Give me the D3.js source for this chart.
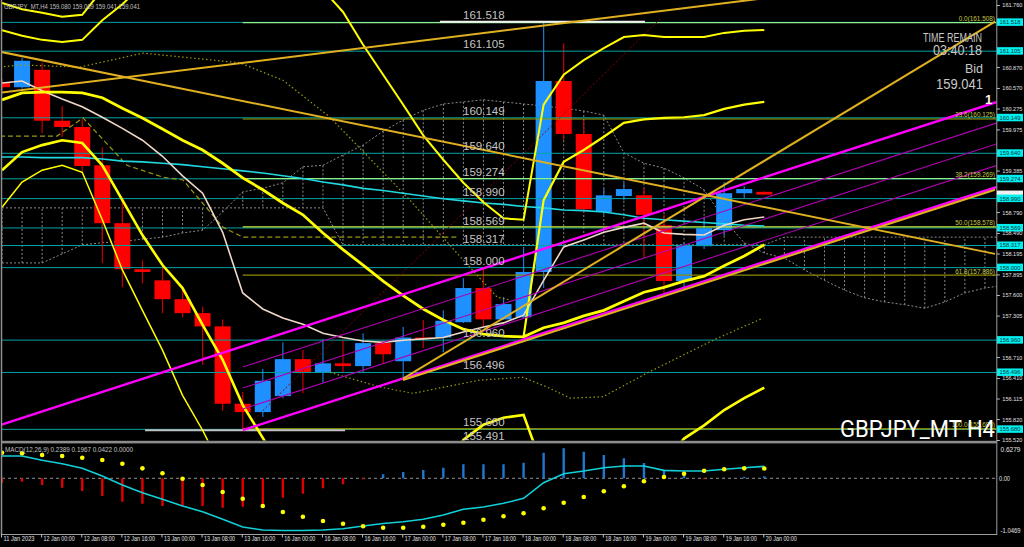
<!DOCTYPE html>
<html><head><meta charset="utf-8">
<script src="https://cdn.jsdelivr.net/npm/d3@7"></script>
<style>
html,body{margin:0;padding:0;background:#000;overflow:hidden;}
svg{display:block;font-family:"Liberation Sans",Arial,sans-serif;}
</style></head><body>
<svg id="c" width="1024" height="547"></svg>
<script>
// ---------------- DATA ----------------
const symbolHeader = "GBPJPY_MT,H4 159.080 159.089 159.041 159.041";
const macdHeader = "MACD(12,26,9) 0.2389 0.1967 0.0422 0.0000";
const bigTitle = "GBPJPY_MT H4";
const bidText = "159.041";
const bidPrice = 159.041;
const timeRemain = "03:40:18";

const timeLabels = ["11 Jan 2023","12 Jan 00:00","12 Jan 08:00","12 Jan 16:00","13 Jan 00:00","13 Jan 08:00","13 Jan 16:00","16 Jan 00:00","16 Jan 08:00","16 Jan 16:00","17 Jan 00:00","17 Jan 08:00","17 Jan 16:00","18 Jan 00:00","18 Jan 08:00","18 Jan 16:00","19 Jan 00:00","19 Jan 08:00","19 Jan 16:00","20 Jan 00:00"];
const timeLabelBars = [0,2,4,6,8,10,12,14,16,18,20,22,24,26,28,30,32,34,36,38];

const priceTicks = ["161.760","161.465","161.165","160.870","160.570","160.275","159.975","159.680","159.385","159.085","158.790","158.490","158.195","157.895","157.600","157.305","157.010","156.710","156.410","156.115","155.820","155.520"];
const macdTicks = ["0.6279","0.00","-1.0469"];

const candleOpen  = [160.64,160.58,160.83,160.10,160.01,159.46,158.63,157.97,157.81,157.54,157.34,157.15,156.04,155.92,156.15,156.68,156.49,156.62,156.58,156.91,156.65,156.99,156.99,157.21,157.70,157.25,157.28,157.93,160.67,159.91,158.79,159.02,159.03,158.60,157.80,158.30,158.53,159.06,159.080];
const candleHigh  = [160.70,161.00,160.93,160.31,160.12,159.72,158.98,158.10,158.00,157.70,157.43,157.25,156.21,156.54,156.92,156.81,156.97,156.95,157.05,156.95,157.14,157.24,157.38,157.84,157.99,157.57,158.29,161.52,161.21,160.11,159.12,159.21,159.14,158.75,158.35,158.70,159.22,159.16,159.089];
const candleLow   = [160.50,160.56,159.92,159.87,159.35,158.06,157.71,157.77,157.34,157.28,156.60,155.94,155.66,155.85,156.12,156.19,156.34,156.48,156.49,156.62,156.42,156.84,156.78,157.20,157.14,157.24,157.27,157.70,159.82,158.78,158.75,158.96,158.13,157.63,157.67,158.26,158.45,158.99,159.041];
const candleClose = [160.58,160.96,160.10,160.01,159.45,158.63,157.97,157.93,157.54,157.34,157.15,156.04,155.92,156.37,156.68,156.49,156.62,156.58,156.91,156.75,156.99,156.97,157.23,157.70,157.25,157.47,157.93,160.67,159.91,158.83,159.03,159.12,158.75,157.80,158.32,158.56,159.06,159.12,159.041];

const srLevels = [161.518,161.105,160.149,159.640,159.274,158.990,158.569,158.317,158.000,156.960,156.496,155.680,155.491];

const fibLevels = [161.508,160.125,159.269,158.578,157.886,155.680];
const fibNames  = ["0.0","23.6","38.2","50.0","61.8","100.0"];
const fibStartBar = 12;

// moving averages (one value per bar)
const maWhite = [160.64,160.67,160.53,160.41,160.30,160.15,159.99,159.82,159.59,159.31,159.06,158.50,157.63,157.40,157.27,157.18,157.05,156.99,156.94,156.92,156.95,156.97,156.99,157.07,157.14,157.20,157.31,157.81,158.29,158.39,158.50,158.57,158.63,158.49,158.47,158.46,158.60,158.68,158.72];
const maCyan  = [159.58,159.58,159.57,159.57,159.57,159.55,159.52,159.51,159.49,159.47,159.44,159.41,159.38,159.35,159.31,159.27,159.22,159.18,159.13,159.10,159.06,159.02,158.98,158.95,158.92,158.90,158.87,158.85,158.82,158.81,158.79,158.75,158.70,158.68,158.66,158.64,158.62,158.60,158.59];

// yellow band lines
const bandOuterTop = [161.79,161.70,161.65,161.59,161.62,161.98];
const bandTop = [161.40,161.32,161.26,161.23,161.26,161.54,161.77,162.05,162.30,162.50,162.60,162.60,162.50,162.40,162.30,162.15,161.98,161.66,161.19,160.76,160.33,159.89,159.54,159.21,158.93,158.70,158.68,160.33,160.76,160.97,161.14,161.30,161.33,161.30,161.30,161.30,161.36,161.39,161.40];
const bandMid = [160.40,160.50,160.51,160.51,160.50,160.43,160.28,160.14,159.98,159.82,159.68,159.49,159.28,159.11,158.92,158.75,158.49,158.25,158.03,157.80,157.59,157.40,157.24,157.11,157.04,157.01,157.00,157.13,157.20,157.30,157.38,157.51,157.64,157.71,157.80,157.87,158.02,158.16,158.32];
const bandRiseStart = 26;
const bandRise = [157.00,158.96,159.51,159.68,159.87,160.07,160.12,160.14,160.15,160.18,160.27,160.33,160.37];
const bandLow = [159.39,159.65,159.75,159.82,159.78,159.46,158.96,158.46,158.03,157.70,157.17,156.67,156.02,155.55,155.09,154.90,154.80,154.80,154.85,154.90,155.00,155.05,155.09,155.52,155.74,155.84,155.88,155.09,154.70,154.60,154.60,154.80,155.00,155.20,155.54,155.73,155.95,156.12,156.27];
const bandOuterLow = [158.86,159.22,159.39,159.46,159.36,158.68,157.96,157.38,156.81,156.16,155.66,155.09];

// ichimoku
const spanA = [158.06,158.06,158.06,158.19,158.32,158.35,158.37,158.40,158.43,158.49,158.53,158.79,159.08,159.13,159.21,159.44,159.46,159.61,159.75,159.95,160.11,160.25,160.34,160.37,160.40,160.37,160.34,160.31,160.28,160.24,160.18,159.64,159.49,159.42,159.28,159.11,158.68,158.35,158.20,158.13,157.96,157.81,157.67,157.56,157.50,157.46,157.41,157.50,157.63,157.70,157.74];
const spanB = [158.85,158.85,158.85,158.85,158.85,158.85,158.85,158.85,158.85,158.85,158.85,158.85,158.85,158.85,158.85,158.85,158.85,158.32,158.32,158.32,158.32,158.32,158.32,158.32,158.32,158.32,158.32,158.32,158.32,158.32,158.32,158.32,158.32,158.32,158.32,158.32,158.32,158.32,158.32,158.43,158.43,158.43,158.43,158.43,158.43,158.43,158.43,158.43,158.43,158.43,158.43];
const kijunBars   = [-0.1,2.74,4.04,6.23,8.03,9.02,11.02,12.01,22.68];
const kijunPrices = [159.88,159.88,160.14,159.46,159.29,159.25,158.57,158.43,158.43];
const dotUpBars   = [-0.1,0.9,3.89,7.03,11.86,14.01,16.35,20.34,22.68,24.68,25.32];
const dotUpPrices = [160.87,160.90,160.87,161.07,160.93,160.68,160.15,158.96,158.20,157.57,157.53];
const dotLowBars   = [16.35,18.84,20.49,23.83,25.97,27.17,28.32,29.96,32.15,35.44,37.94];
const dotLowPrices = [156.49,156.28,156.19,156.38,156.42,156.28,156.12,156.14,156.48,156.95,157.27];

// channel (magenta) : start bar, start price, end bar, end price
const chanStartBar   = [-0.1,12,12,12,12];
const chanStartPrice = [155.734,156.566,156.265,155.964,155.662];
const chanEndBar     = [49.6,49.6,49.6,49.6,49.6];
const chanEndPrice   = [160.37,160.07,159.77,159.46,159.15];
const chanThick      = [true,false,false,false,true];

// gold trend lines
const trendStartBar   = [-0.1,-0.1,19.99,19.99];
const trendStartPrice = [161.09,160.50,156.40,156.38];
const trendEndBar     = [49.5,49.6,49.5,49.5];
const trendEndPrice   = [158.19,162.27,161.52,159.11];

// fib diagonal and marker segments
const fibDiagBars = [12.01,32.8];
const fibDiagPrices = [155.66,161.56];
const markSegBars = [[7.13,17.1],[21.83,32.05]];
const markSegPrices = [155.66,161.52];

// MACD
const macdHist = [-0.088,-0.068,-0.134,-0.189,-0.255,-0.355,-0.469,-0.510,-0.556,-0.556,-0.556,-0.590,-0.570,-0.556,-0.389,-0.309,-0.200,-0.120,-0.020,0.080,0.126,0.166,0.213,0.281,0.281,0.281,0.313,0.514,0.602,0.534,0.467,0.401,0.307,0.160,0.112,-0.020,0.012,0.032,0.042];
const macdMain = [0.447,0.447,0.361,0.293,0.200,0.046,-0.134,-0.289,-0.421,-0.556,-0.670,-0.822,-0.977,-1.037,-1.047,-1.047,-1.037,-1.011,-0.957,-0.907,-0.871,-0.822,-0.736,-0.622,-0.576,-0.502,-0.401,-0.088,0.092,0.146,0.213,0.247,0.247,0.160,0.146,0.146,0.181,0.213,0.239];
const macdSignal = [0.514,0.502,0.467,0.447,0.413,0.367,0.293,0.200,0.100,-0.008,-0.134,-0.275,-0.409,-0.556,-0.676,-0.770,-0.857,-0.911,-0.963,-0.991,-0.991,-0.971,-0.931,-0.891,-0.830,-0.762,-0.702,-0.602,-0.489,-0.375,-0.261,-0.160,-0.060,0.026,0.092,0.152,0.181,0.200,0.197];

// ---------------- DRAW ----------------
const svg = d3.select("#c");
svg.append("rect").attr("width",1024).attr("height",547).attr("fill","#000");

const x  = d3.scaleLinear().domain([0,49.6]).range([2,997]);
const y  = d3.scaleLinear().domain([155.52,161.76]).range([440,5]);
const ym = d3.scaleLinear().domain([-1.0469,0.6279]).range([530.5,447]);

const defs = svg.append("defs");
defs.append("clipPath").attr("id","clipP").append("rect").attr("x",2).attr("y",0).attr("width",994.5).attr("height",440.5);
defs.append("clipPath").attr("id","clipM").append("rect").attr("x",2).attr("y",444).attr("width",994.5).attr("height",90);

const gP = svg.append("g").attr("clip-path","url(#clipP)");
const gM = svg.append("g").attr("clip-path","url(#clipM)");

const line = d3.line().x(d=>x(d[0])).y(d=>y(d[1]));
const series = arr => arr.map((v,i)=>[i,v]);
const zip = (a,b) => a.map((v,i)=>[v,b[i]]);

// Ichimoku cloud (dotted gray)
const gCloud = gP.append("g");
gCloud.selectAll("line").data(spanA).join("line")
  .attr("x1",(d,i)=>x(i)).attr("x2",(d,i)=>x(i))
  .attr("y1",d=>y(d)).attr("y2",(d,i)=>y(spanB[i]))
  .attr("stroke","#8a8a8a").attr("stroke-width",1).attr("stroke-dasharray","2,2");
gCloud.append("path").attr("d",line(series(spanA))).attr("fill","none").attr("stroke","#8a8a8a").attr("stroke-dasharray","2,2");
gCloud.append("path").attr("d",line(series(spanB))).attr("fill","none").attr("stroke","#8a8a8a").attr("stroke-dasharray","2,2");

// candles
const gC = gP.append("g");
candleOpen.forEach((o,i)=>{
  const c = candleClose[i], up = c>=o;
  gC.append("line").attr("x1",x(i)).attr("x2",x(i)).attr("y1",y(candleHigh[i])).attr("y2",y(candleLow[i]))
    .attr("stroke", up?"#1E78D0":"#C80000").attr("stroke-width",1.2);
  const top = y(Math.max(o,c)), bot = y(Math.min(o,c));
  gC.append("rect").attr("x",x(i)-8).attr("width",16).attr("y",top).attr("height",Math.max(1.5,bot-top))
    .attr("fill", up?"#1E90FF":"#FF0000");
});

// horizontal S/R levels
gP.selectAll(".lvl").data(srLevels).join("line").attr("class","lvl")
  .attr("x1",x(0)).attr("x2",x(49.6)).attr("y1",d=>y(d)+0.5).attr("y2",d=>y(d)+0.5)
  .attr("stroke","#00A3A3").attr("stroke-width",1);

// fib lines
const fibColors = ["#8CF08C","#A0A000","#8CF08C","#C8E838","#8C8C00","#A8A800"];
gP.selectAll(".fib").data(fibLevels).join("line").attr("class","fib")
  .attr("x1",x(fibStartBar)).attr("x2",x(49.6)).attr("y1",d=>y(d)).attr("y2",d=>y(d))
  .attr("stroke",(d,i)=>fibColors[i]).attr("stroke-width",1.2);

// marker segments
markSegBars.forEach((b,i)=>{
  gP.append("line").attr("x1",x(b[0])).attr("x2",x(b[1])).attr("y1",y(markSegPrices[i])).attr("y2",y(markSegPrices[i]))
    .attr("stroke",i===1?"#F0F0F0":"#C0C0C0").attr("stroke-width",2);
});

// fib diagonal
gP.append("path").attr("d",line(zip(fibDiagBars,fibDiagPrices))).attr("stroke","#8B0000").attr("stroke-dasharray","2,2").attr("fill","none");

// kijun & dotted olive
gP.append("path").attr("d",line(zip(kijunBars,kijunPrices))).attr("stroke","#9A9A10").attr("stroke-width",1.2).attr("stroke-dasharray","5,3").attr("fill","none");
gP.append("path").attr("d",line(zip(dotUpBars,dotUpPrices))).attr("stroke","#9A9A10").attr("stroke-width",1.2).attr("stroke-dasharray","1.5,2.5").attr("fill","none");
gP.append("path").attr("d",line(zip(dotLowBars,dotLowPrices))).attr("stroke","#9A9A10").attr("stroke-width",1.2).attr("stroke-dasharray","1.5,2.5").attr("fill","none");

// MAs
gP.append("path").attr("d",line(series(maCyan))).attr("stroke","#20D8E0").attr("stroke-width",1.6).attr("fill","none");
gP.append("path").attr("d",line(series(maWhite))).attr("stroke","#F0D8C8").attr("stroke-width",1.6).attr("fill","none");

// yellow bands
const Y = "#FFFF00";
gP.append("path").attr("d",line(series(bandOuterTop))).attr("stroke",Y).attr("stroke-width",2).attr("fill","none");
gP.append("path").attr("d",line(series(bandTop))).attr("stroke",Y).attr("stroke-width",2).attr("fill","none");
gP.append("path").attr("d",line(series(bandMid))).attr("stroke",Y).attr("stroke-width",2.8).attr("fill","none");
gP.append("path").attr("d",line(bandRise.map((v,i)=>[i+bandRiseStart,v]))).attr("stroke",Y).attr("stroke-width",2.2).attr("fill","none");
gP.append("path").attr("d",line(series(bandLow))).attr("stroke",Y).attr("stroke-width",2.6).attr("fill","none");
gP.append("path").attr("d",line(series(bandOuterLow))).attr("stroke",Y).attr("stroke-width",1.5).attr("fill","none");

// magenta channel
chanStartBar.forEach((b,i)=>{
  gP.append("line").attr("x1",x(b)).attr("y1",y(chanStartPrice[i])).attr("x2",x(chanEndBar[i])).attr("y2",y(chanEndPrice[i]))
    .attr("stroke",chanThick[i]?"#FF00FF":"#B000B0").attr("stroke-width",chanThick[i]?2.4:1.1);
});
// gold trend lines
trendStartBar.forEach((b,i)=>{
  gP.append("line").attr("x1",x(b)).attr("y1",y(trendStartPrice[i])).attr("x2",x(trendEndBar[i])).attr("y2",y(trendEndPrice[i]))
    .attr("stroke","#E0B020").attr("stroke-width",2);
});

// level labels on chart
gP.selectAll(".lvlt").data(srLevels).join("text").attr("class","lvlt")
  .attr("x",463).attr("y",d=>y(d)-2.5).text(d=>d.toFixed(3))
  .attr("fill","#C4C4C4").attr("font-size",11.5);
// fib labels
gP.selectAll(".fibt").data(fibLevels).join("text").attr("class","fibt")
  .attr("x",995).attr("y",d=>y(d)-1.5).attr("text-anchor","end")
  .text((d,i)=>fibNames[i]+"("+d.toFixed(3)+")")
  .attr("fill","#C8C846").attr("font-size",6.4);

// texts
svg.append("text").attr("x",4).attr("y",9).text(symbolHeader).attr("fill","#C0C0C0").attr("font-size",8).attr("textLength",136).attr("lengthAdjust","spacingAndGlyphs");
svg.append("text").attr("x",982).attr("y",42).attr("text-anchor","end").text("TIME REMAIN").attr("fill","#C8C8C8").attr("font-size",12).attr("textLength",59).attr("lengthAdjust","spacingAndGlyphs");
svg.append("text").attr("x",982).attr("y",55).attr("text-anchor","end").text(timeRemain).attr("fill","#C8C8C8").attr("font-size",14.5).attr("textLength",49).attr("lengthAdjust","spacingAndGlyphs");
svg.append("text").attr("x",983).attr("y",73).attr("text-anchor","end").text("Bid").attr("fill","#C8C8C8").attr("font-size",12.5);
svg.append("text").attr("x",983).attr("y",89).attr("text-anchor","end").text(bidText).attr("fill","#C8C8C8").attr("font-size",15).attr("textLength",47).attr("lengthAdjust","spacingAndGlyphs");
svg.append("text").attr("x",985).attr("y",103.5).text("1").attr("fill","#FFF4E0").attr("font-size",13).attr("font-weight","bold");
svg.append("text").attr("x",995).attr("y",437).attr("text-anchor","end").text(bigTitle).attr("fill","#FFFFFF").attr("font-size",24).attr("font-family","Roboto, 'Liberation Sans', sans-serif").attr("textLength",155).attr("lengthAdjust","spacingAndGlyphs");

// panel borders
svg.append("line").attr("x1",1.5).attr("x2",1.5).attr("y1",0).attr("y2",535).attr("stroke","#909090").attr("stroke-width",1.5);
svg.append("line").attr("x1",996.8).attr("x2",996.8).attr("y1",0).attr("y2",535).attr("stroke","#A0A0A0").attr("stroke-width",1);
svg.append("rect").attr("x",1).attr("y",440.8).attr("width",996).attr("height",2.6).attr("fill","#8C8C8C");
svg.append("line").attr("x1",1).attr("x2",997).attr("y1",534.5).attr("y2",534.5).attr("stroke","#A0A0A0").attr("stroke-width",1);

// right price axis (labels hidden behind level boxes are left out)
const boxLevels = srLevels.filter(v=>y(v)<436);
const boxYs = boxLevels.map(v=>y(v)).concat([y(bidPrice)]);
const shownTicks = priceTicks.map(Number).filter(v=>boxYs.every(b=>Math.abs(b-y(v))>=5));
const ay = svg.append("g").attr("transform","translate(996.8,0)")
  .call(d3.axisRight(y).tickValues(shownTicks).tickSize(3).tickPadding(2.5).tickFormat(d3.format(".3f")));
ay.select(".domain").remove();
ay.selectAll("line").attr("stroke","#C0C0C0");
ay.selectAll("text").attr("fill","#E0E0E0").attr("font-size",6.2).attr("font-family","Liberation Sans").attr("textLength",20).attr("lengthAdjust","spacingAndGlyphs");

// bid box (white) then level boxes
svg.append("rect").attr("x",997).attr("y",y(bidPrice)-4).attr("width",26).attr("height",7.5).attr("fill","#F0F0F0");
svg.selectAll(".box").data(boxLevels).join("rect").attr("class","box")
  .attr("x",997).attr("y",d=>y(d)-3.5).attr("width",26).attr("height",7.5).attr("fill","#00F0F0");
svg.selectAll(".boxt").data(boxLevels).join("text").attr("class","boxt")
  .attr("x",1010).attr("y",d=>y(d)+2.4).attr("text-anchor","middle").text(d=>d.toFixed(3))
  .attr("fill","#06303A").attr("font-size",6.2).attr("textLength",21).attr("lengthAdjust","spacingAndGlyphs");

// ---------- MACD ----------
gM.append("line").attr("x1",2).attr("x2",997).attr("y1",ym(0)).attr("y2",ym(0)).attr("stroke","#909090").attr("stroke-dasharray","3,3");
gM.selectAll(".hist").data(macdHist).join("line").attr("class","hist")
  .attr("x1",(d,i)=>x(i)).attr("x2",(d,i)=>x(i)).attr("y1",ym(0)).attr("y2",d=>ym(d))
  .attr("stroke",d=>d>=0?"#1E78D0":"#E00000").attr("stroke-width",2.4);
gM.append("path").attr("d",d3.line().x((d,i)=>x(i)).y(d=>ym(d))(macdMain)).attr("stroke","#10D0D8").attr("stroke-width",1.6).attr("fill","none");
gM.selectAll(".sig").data(macdSignal).join("circle").attr("class","sig")
  .attr("cx",(d,i)=>x(i)).attr("cy",d=>ym(d)).attr("r",2.3).attr("fill","#FFFF00");
svg.append("text").attr("x",5).attr("y",452).text(macdHeader).attr("fill","#C0C0C0").attr("font-size",8).attr("textLength",128).attr("lengthAdjust","spacingAndGlyphs");

const macdTickVals = macdTicks.map(Number);
svg.selectAll(".mt").data(macdTickVals).join("text").attr("class","mt")
  .attr("x",(d,i)=>i===1?999:1000.5).attr("y",(d,i)=>(i===0?ym(d)+5:ym(d)+2.5)).text((d,i)=>macdTicks[i])
  .attr("fill","#E0E0E0").attr("font-size",6.4).attr("textLength",(d,i)=>i===1?11:20).attr("lengthAdjust","spacingAndGlyphs");

// ---------- time axis ----------
const ax = svg.append("g").attr("transform","translate(0,534.5)")
  .call(d3.axisBottom(x).tickValues(timeLabelBars).tickSize(3).tickPadding(1).tickFormat((d,i)=>timeLabels[i]));
ax.select(".domain").remove();
ax.selectAll("line").attr("stroke","#C0C0C0").attr("transform","translate(-1,0)");
ax.selectAll("text").attr("fill","#E0E0E0").attr("font-size",7).attr("font-family","Liberation Sans")
  .attr("text-anchor","start").attr("dx",1).attr("dy","0.4em").attr("textLength",31).attr("lengthAdjust","spacingAndGlyphs");
</script></body></html>
